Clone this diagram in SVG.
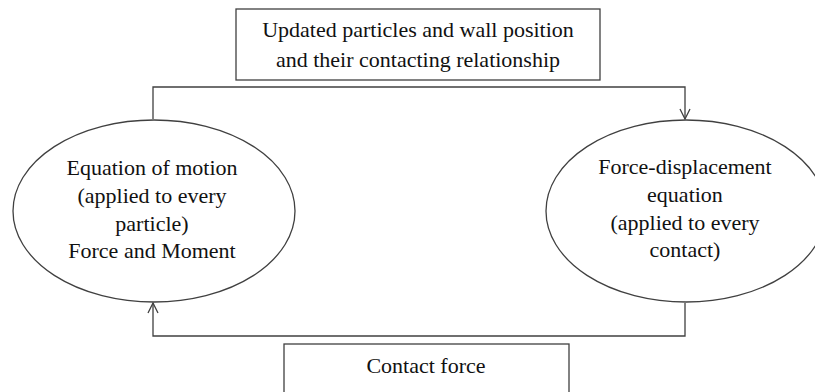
<svg xmlns="http://www.w3.org/2000/svg" width="815" height="392" viewBox="0 0 815 392">
<style>
.shape{fill:#fff;stroke:#404040;stroke-width:1.3}
.conn{fill:none;stroke:#404040;stroke-width:1.3}
.t{font-family:'Liberation Serif','Times New Roman','DejaVu Serif',serif;font-size:22px;fill:#111;text-anchor:middle}
</style>
<defs>
<marker id="arr" viewBox="0 0 12 12" refX="11" refY="6" markerWidth="12" markerHeight="12" markerUnits="userSpaceOnUse" orient="auto">
<path d="M1,1 L11,6 L1,11" fill="none" stroke="#404040" stroke-width="1.3"/>
</marker>
</defs>
<rect width="815" height="392" fill="#fff"/>
<g id="connectors">
<path class="conn" d="M153,119 L153,87 L685,87 L685,119" marker-end="url(#arr)"/>
<path class="conn" d="M685,303 L685,336 L153,336 L153,303" marker-end="url(#arr)"/>
</g>
<g id="updated">
<rect class="shape" x="236" y="9" width="364" height="71"/>
<text class="t" x="418" y="37">Updated particles and wall position</text>
<text class="t" x="418" y="67">and their contacting relationship</text>
</g>
<g id="motion">
<ellipse class="shape" cx="154" cy="211" rx="141" ry="91"/>
<text class="t" x="152" y="175">Equation of motion</text>
<text class="t" x="152" y="203">(applied to every</text>
<text class="t" x="152" y="231">particle)</text>
<text class="t" x="152" y="258">Force and Moment</text>
</g>
<g id="forcedisp">
<ellipse class="shape" cx="686" cy="211" rx="140" ry="91"/>
<text class="t" x="685" y="174">Force-displacement</text>
<text class="t" x="685" y="202">equation</text>
<text class="t" x="685" y="230">(applied to every</text>
<text class="t" x="685" y="257">contact)</text>
</g>
<g id="contact">
<rect class="shape" x="284" y="344" width="285" height="60"/>
<text class="t" x="426" y="373">Contact force</text>
</g>
</svg>
